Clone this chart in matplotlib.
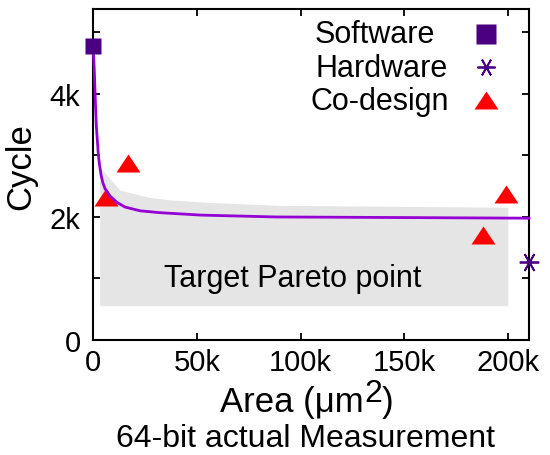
import matplotlib
matplotlib.use("Agg")
import matplotlib.pyplot as plt
from matplotlib.ticker import FixedLocator, FixedFormatter
from matplotlib.markers import MarkerStyle
from matplotlib.transforms import Affine2D
from matplotlib.lines import Line2D

plt.rcParams['font.family'] = ['Liberation Sans', 'DejaVu Sans']

# ---- data ----
software_x = [0]
software_y = [4780]
hardware_x = [210000]
hardware_y = [1270]
codesign_x = [6300, 17000, 188000, 199000]
codesign_y = [2330, 2870, 1710, 2370]

curve_x = [0, 600, 1000, 1600, 2600, 3200, 3900, 4700, 5800, 7900, 11400,
           15500, 22700, 32000, 52000, 88000, 150000, 210000]
curve_y = [4780, 4410, 4000, 3480, 3000, 2830, 2680, 2560, 2460, 2350, 2240,
           2160, 2100, 2070, 2030, 2000, 1990, 1980]

pareto_x = [3500, 3500, 13000, 27500, 37000, 55000, 90000, 200000, 200000]
pareto_y = [550, 2810, 2430, 2310, 2270, 2230, 2180, 2150, 550]

x_ticks = [0, 50000, 100000, 150000, 200000]
x_tick_labels = ['0', '50k', '100k', '150k', '200k']
y_ticks = [0, 1000, 2000, 3000, 4000, 5000]
y_tick_labels = ['0', '', '2k', '', '4k', '']

legend_labels = ['Software', 'Hardware', 'Co-design']

indigo = '#4B0082'
violet = '#9400D3'
red = '#FF0000'

fig = plt.figure(figsize=(5.5, 4.56), dpi=100)
ax = fig.add_axes([93 / 550, 1 - 341 / 456, (529 - 93) / 550, (341 - 10) / 456])

ax.fill(pareto_x, pareto_y, color='#E5E5E5', lw=0, zorder=1)
ax.text(96000, 880, 'Target Pareto point', fontsize=22, ha='center',
        va='baseline', zorder=2)

tri = MarkerStyle('^', transform=Affine2D().scale(1.35, 1.0))
ax.plot(codesign_x, codesign_y, ls='none', marker=tri, ms=12.5, color=red,
        mec='none', zorder=3, clip_on=False)
ax.plot(curve_x, curve_y, color=violet, lw=2, zorder=4, clip_on=False)
ax.plot(software_x, software_y, ls='none', marker='s', ms=12, color=indigo,
        mec='none', zorder=5, clip_on=False)
star = (6, 2, 90)
ax.plot(hardware_x, hardware_y, ls='none', marker=star, ms=14,
        color=indigo, mew=1.3, zorder=5, clip_on=False)

ax.set_xlim(0, 210000)
ax.set_ylim(0, 5380)
ax.xaxis.set_major_locator(FixedLocator(x_ticks))
ax.xaxis.set_major_formatter(FixedFormatter(x_tick_labels))
ax.yaxis.set_major_locator(FixedLocator(y_ticks))
ax.yaxis.set_major_formatter(FixedFormatter(y_tick_labels))
ax.tick_params(direction='in', length=5, width=1.3, top=True, right=True,
               labelsize=21)
ax.tick_params(axis='x', pad=6)
ax.tick_params(axis='y', pad=9)
for s in ax.spines.values():
    s.set_linewidth(1.5)

# legend keys (texts placed separately so they are left-aligned)
keys = [Line2D([], [], ls='none', marker='s', ms=15, color=indigo, mec='none'),
        Line2D([], [], ls='none', marker=star, ms=13, color=indigo, mew=1.3),
        Line2D([], [], ls='none', marker=tri, ms=12.5, color=red, mec='none')]
ax.legend(keys, [' ', ' ', ' '], loc='upper right', markerfirst=False,
          bbox_to_anchor=((501 - 93) / 436, 1 - (23 - 10) / 331),
          frameon=False, fontsize=22, handlelength=1.0, handletextpad=0.0,
          labelspacing=0.1, borderpad=0, borderaxespad=0)
legend_text_x = [315, 316, 310]
legend_text_base = [43, 77, 110]
for lab, lx, ly in zip(legend_labels, legend_text_x, legend_text_base):
    fig.text(lx / 550, 1 - ly / 456, lab, fontsize=22, ha='left', va='baseline')

fig.text(21 / 550, 1 - 167 / 456, 'Cycle', rotation=90, fontsize=25,
         ha='center', va='center')
t1 = fig.text(220 / 550, 1 - 412 / 456, 'Area (μm', fontsize=25,
              ha='left', va='baseline')
t2 = ax.annotate('2', xy=(1, 0), xycoords=t1, xytext=(0.5, 7.5),
                 textcoords='offset points', fontsize=23, ha='left',
                 va='bottom', annotation_clip=False)
ax.annotate(')', xy=(1, 0), xycoords=t2, xytext=(0, -7.5),
            textcoords='offset points', fontsize=25, ha='left', va='bottom',
            annotation_clip=False)
fig.text(306 / 550, 1 - 447 / 456, '64-bit actual Measurement', fontsize=23,
         ha='center', va='baseline')

fig.savefig('out.png', dpi=100)
